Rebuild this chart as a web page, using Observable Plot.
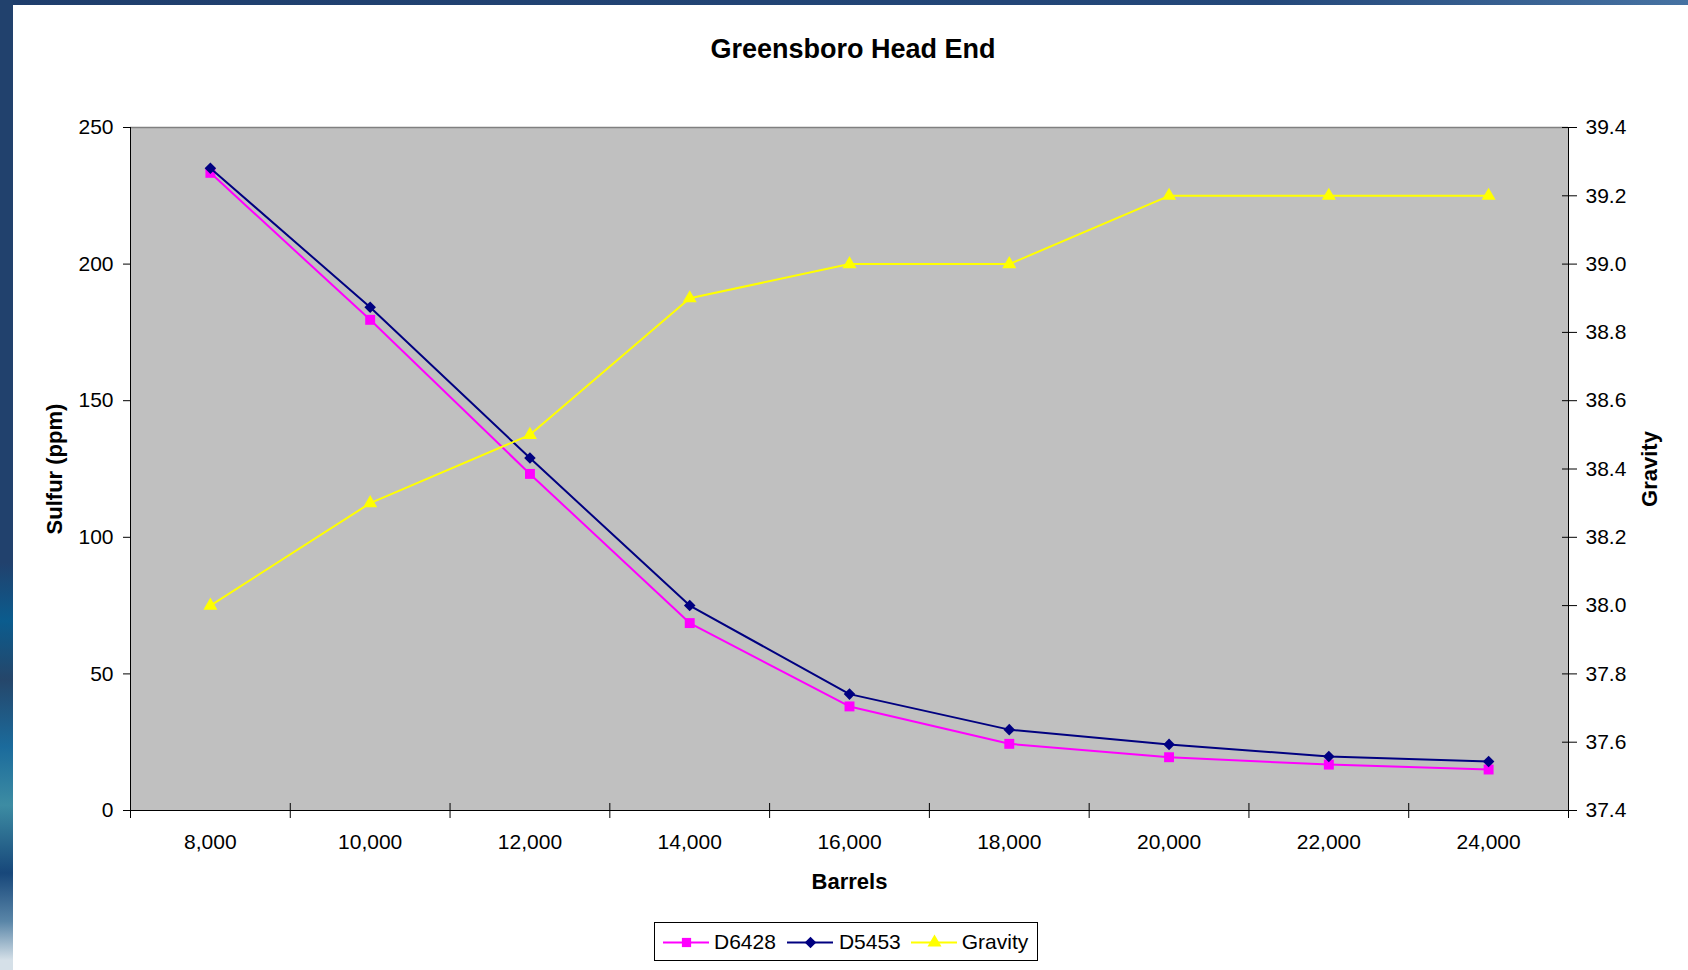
<!DOCTYPE html>
<html>
<head>
<meta charset="utf-8">
<script src="https://cdn.jsdelivr.net/npm/d3@7"></script>
<script src="https://cdn.jsdelivr.net/npm/@observablehq/plot@0.6"></script>
<style>
  html, body { margin: 0; padding: 0; }
  body { width: 1688px; height: 970px; overflow: hidden; position: relative; font-family: "Liberation Sans", Arial, sans-serif; }
  #bg { position: absolute; left: 0; top: 0; width: 1688px; height: 970px; background: linear-gradient(90deg, #1f3e6c 0%, #24487a 75%, #4672a2 100%); }
  #strip { position: absolute; left: 0; top: 0; width: 13px; height: 970px;
    background: linear-gradient(180deg, #21416d 0%, #21416d 58%, #0b5c8e 64%, #25466a 70%, #1b6b9c 77%, #3d8ca3 83%, #17477a 90%, #5a86a8 95%, #d5e0e8 99%); }
  #panel { position: absolute; left: 13px; top: 5px; width: 1675px; height: 965px; background: #fff; }
  #title { position: absolute; left: 353px; top: 33px; width: 1000px; text-align: center; font-weight: bold; font-size: 27px; line-height: 32px; color: #000; }
  #chart { position: absolute; left: 0; top: 0; }
  #legend { position: absolute; left: 654px; top: 922px; width: 382px; height: 37px; border: 1px solid #000; background: #fff; display: flex; align-items: center; font-size: 21px; color: #000; }
  #legend .item { display: flex; align-items: center; }
  #legend svg { display: block; }
</style>
</head>
<body>
<div id="bg"></div>
<div id="strip"></div>
<div id="panel"></div>
<div id="title">Greensboro Head End</div>
<div id="chart"></div>
<div id="legend"></div>
<script>
// ---- data ----
const barrels = [8000, 10000, 12000, 14000, 16000, 18000, 20000, 22000, 24000];
const d6428   = [233.4, 179.6, 123.2, 68.6, 38.1, 24.4, 19.5, 16.8, 15.0];
const d5453   = [235.1, 184.2, 129.0, 75.0, 42.6, 29.6, 24.2, 19.8, 17.9];
const gravity = [38.0, 38.3, 38.5, 38.9, 39.0, 39.0, 39.2, 39.2, 39.2];
const sulfurTicks  = [0, 50, 100, 150, 200, 250];
const gravityTicks = [37.4, 37.6, 37.8, 38.0, 38.2, 38.4, 38.6, 38.8, 39.0, 39.2, 39.4];
const seriesNames = ["D6428", "D5453", "Gravity"];
const seriesColors = ["#ff00ff", "#000080", "#ffff00"];
const seriesSymbols = ["square", "diamond2", "triangle"];

// ---- scales ----
const xDomain = [7000, 25000];
const gDomain = [37.4, 39.4];
const yDomain = [0, 250];
const gToY = g => (g - gDomain[0]) / (gDomain[1] - gDomain[0]) * (yDomain[1] - yDomain[0]) + yDomain[0];
const yToG = y => (y - yDomain[0]) / (yDomain[1] - yDomain[0]) * (gDomain[1] - gDomain[0]) + gDomain[0];
const xBoundaries = [xDomain[0], ...barrels.map(b => b + 1000)];

const rows = barrels.map((b, i) => ({b, d6428: d6428[i], d5453: d5453[i], g: gToY(gravity[i])}));

const chart = Plot.plot({
  width: 1688,
  height: 905,
  marginLeft: 130,
  marginRight: 120,
  marginTop: 127,
  marginBottom: 95,
  style: { fontSize: "21px", fontFamily: "'Liberation Sans', Arial, sans-serif", color: "#000", background: "transparent", overflow: "visible" },
  x: { domain: xDomain },
  y: { domain: yDomain },
  marks: [
    Plot.frame({ fill: "#c0c0c0", stroke: "none" }),
    Plot.ruleY([yDomain[1]], { stroke: "#808080", strokeWidth: 1.5 }),
    Plot.ruleY([yDomain[0]], { stroke: "#000" }),
    Plot.ruleX([xDomain[0], xDomain[1]], { stroke: "#000" }),
    // left axis
    Plot.axisY({ ticks: sulfurTicks, tickSize: 7, tickPadding: 10, label: null, tickFormat: d3.format("d") }),
    // right axis (ticks cross the line)
    Plot.axisY({ anchor: "right", ticks: gravityTicks.map(gToY), tickSize: 15, dx: -7, tickFormat: () => "", label: null }),
    Plot.axisY({ anchor: "right", ticks: gravityTicks.map(gToY), tickSize: 0, tickPadding: 17, tickFormat: v => yToG(v).toFixed(1), label: null }),
    // x axis ticks at category boundaries, crossing the axis line
    Plot.axisX({ ticks: xBoundaries, tickSize: 15, dy: -7, tickFormat: () => "", label: null }),
    Plot.axisX({ ticks: barrels, tickSize: 0, tickPadding: 24, tickFormat: d3.format(","), label: null }),
    // axis titles
    Plot.text(["Sulfur (ppm)"], { frameAnchor: "left", textAnchor: "middle", dx: -76, rotate: -90, fontWeight: "bold", fontSize: 22 }),
    Plot.text(["Gravity"], { frameAnchor: "right", textAnchor: "middle", dx: 81, rotate: -90, fontWeight: "bold", fontSize: 22 }),
    Plot.text(["Barrels"], { frameAnchor: "bottom", dy: 78, fontWeight: "bold", fontSize: 22 }),
    // series
    Plot.line(rows, { x: "b", y: "d6428", stroke: seriesColors[0], strokeWidth: 2 }),
    Plot.dot(rows, { x: "b", y: "d6428", symbol: seriesSymbols[0], r: 5.6, fill: seriesColors[0], stroke: "none" }),
    Plot.line(rows, { x: "b", y: "d5453", stroke: seriesColors[1], strokeWidth: 2 }),
    Plot.dot(rows, { x: "b", y: "d5453", symbol: seriesSymbols[1], r: 5.2, fill: seriesColors[1], stroke: "none" }),
    Plot.line(rows, { x: "b", y: "g", stroke: seriesColors[2], strokeWidth: 2 }),
    Plot.dot(rows, { x: "b", y: "g", symbol: seriesSymbols[2], r: 5.2, fill: seriesColors[2], stroke: "none" })
  ]
});
document.getElementById("chart").appendChild(chart);

// ---- legend ----
const legend = document.getElementById("legend");
const margins = [[8, 5], [11, 6], [10, 5]];
seriesNames.forEach((name, i) => {
  const item = document.createElement("div");
  item.className = "item";
  item.style.marginLeft = margins[i][0] + "px";
  const sw = Plot.plot({
    width: 46, height: 16, margin: 0,
    x: { domain: [0, 2], axis: null }, y: { domain: [0, 1], axis: null },
    style: { background: "transparent" },
    marks: [
      Plot.ruleY([0.5], { stroke: seriesColors[i], strokeWidth: 2 }),
      Plot.dot([1], { x: d => d, y: () => 0.5, symbol: seriesSymbols[i], r: 5.2, fill: seriesColors[i], stroke: "none" })
    ]
  });
  item.appendChild(sw);
  const t = document.createElement("span");
  t.textContent = name;
  t.style.marginLeft = margins[i][1] + "px";
  item.appendChild(t);
  legend.appendChild(item);
});
</script>
</body>
</html>
